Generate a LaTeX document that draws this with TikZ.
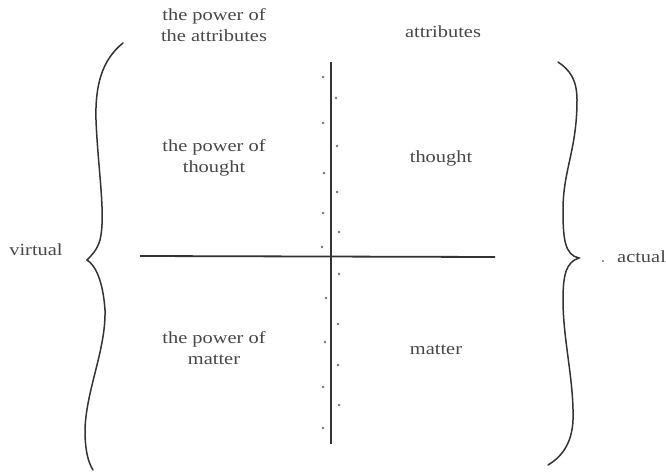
\documentclass[tikz,border=0pt]{standalone}
\usepackage{fontspec}
\setmainfont{Liberation Serif}[FakeStretch=1.2]
\begin{document}
\begin{tikzpicture}[x=1pt,y=-1pt,
  lbl/.style={font=\fontsize{17}{21}\selectfont, text=black!72, align=center, inner sep=0pt},
  axis/.style={draw=black!80, line width=1.8pt},
  brace/.style={draw=black!80, line width=1.5pt, line cap=round},
  dot/.style={fill=black!55, draw=none}]
\useasboundingbox (0,0) rectangle (666,476);
% labels
\node[lbl, anchor=north] (pa) at (214,8) {the power of\\the attributes};
\node[lbl, anchor=base] (a) at (443,38) {attributes};
\node[lbl, anchor=north] (pt) at (214,139) {the power of\\thought};
\node[lbl, anchor=base] (t) at (441,162) {thought};
\node[lbl, anchor=north] (pm) at (214,331) {the power of\\matter};
\node[lbl, anchor=base] (m) at (436,354) {matter};
\node[lbl, anchor=base] (v) at (36,255) {virtual};
\node[lbl, anchor=base west] (ac) at (617,262) {actual};
% axes
\coordinate (vt) at (331,62);
\coordinate (vb) at (331,444);
\coordinate (hl) at (140,256);
\coordinate (hr) at (495,257);
\draw[axis] (vt) -- (vb);
\draw[axis] (hl) -- (hr);
% dots
\foreach \x/\y in {323/77,323/123,324/173,323/213,322/247,326/298,325/342,323/387,323/428,
  336/98,337/146,337/192,339/232,339/274,338/324,338/365,339/405}
  \fill[dot] (\x,\y) circle (1.3);
\fill[dot] (603,261) circle (1.1);
% left brace
\draw[brace] (123,43) .. controls (102,60) and (95,85) .. (96,120)
  .. controls (98,170) and (106,215) .. (100,240)
  .. controls (97,250) and (92,255) .. (87,260)
  .. controls (95,265) and (103,280) .. (105,310)
  .. controls (106,350) and (86,390) .. (85,430)
  .. controls (85,450) and (88,462) .. (93,470);
% right brace
\draw[brace] (558,62) .. controls (570,70) and (577,80) .. (577,100)
  .. controls (577,150) and (563,170) .. (563,210)
  .. controls (563,240) and (565,255) .. (579,258)
  .. controls (566,262) and (563,275) .. (563,300)
  .. controls (563,340) and (574,380) .. (573,420)
  .. controls (572,445) and (560,458) .. (548,465);
\end{tikzpicture}
\end{document}
